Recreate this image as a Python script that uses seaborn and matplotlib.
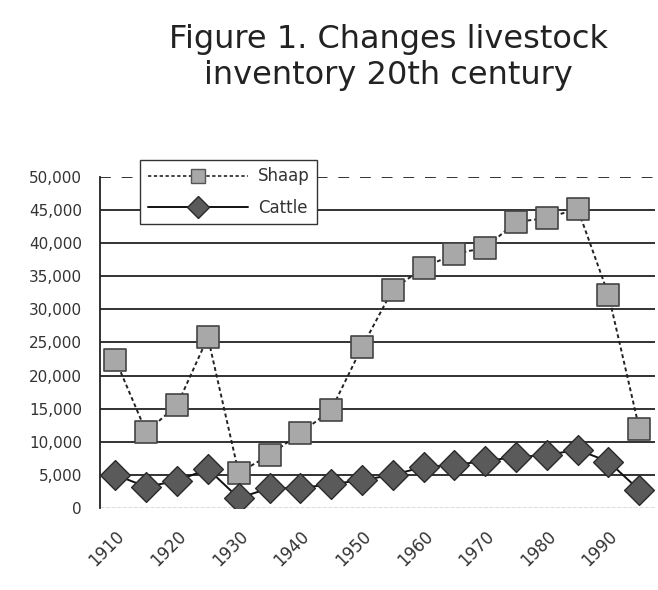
import pandas as pd
import matplotlib.pyplot as plt
import seaborn as sns
from matplotlib.ticker import FuncFormatter
from matplotlib.lines import Line2D

# Values (thousands of head, every 5 years)
years = [1910, 1915, 1920, 1925, 1930, 1935, 1940, 1945, 1950,
         1955, 1960, 1965, 1970, 1975, 1980, 1985, 1990, 1995]
sheep = [22400, 11500, 15500, 25800, 5300, 8000, 11300, 14800, 24300,
         33000, 36300, 38400, 39300, 43200, 43800, 45200, 32200, 12000]
cattle = [5000, 3200, 4100, 5900, 1500, 3000, 3000, 3600, 4200,
          5000, 6200, 6500, 7100, 7700, 8000, 8800, 7000, 2700]
tick_labels = ['1910', '1920', '1930', '1940', '1950', '1960', '1970', '1980', '1990']

df = pd.DataFrame({
    'idx': list(range(len(years))) * 2,
    'value': sheep + cattle,
    'series': ['Sheep'] * len(years) + ['Cattle'] * len(years),
})

sns.set_style('white')
plt.rcParams['font.family'] = ['DejaVu Sans']

fig = plt.figure(figsize=(6.58, 5.9), dpi=100)
ax = fig.add_axes([0.152, 0.139, 0.843, 0.561])

# horizontal grid lines (top one dashed)
for y in range(5000, 50000, 5000):
    ax.axhline(y, color='#222222', lw=1.3, zorder=0)
ax.axhline(50000, color='#222222', lw=1.3, ls=(0, (6, 6)), zorder=0)
ax.axhline(0, color='#555555', lw=1.0, ls=(0, (3, 1)), zorder=0)

sns.lineplot(data=df, x='idx', y='value', hue='series', style='series',
             hue_order=['Sheep', 'Cattle'], style_order=['Sheep', 'Cattle'],
             palette={'Sheep': '#222222', 'Cattle': '#111111'},
             dashes={'Sheep': (2, 1.5), 'Cattle': ''},
             markers={'Sheep': 's', 'Cattle': 'D'}, markersize=0,
             linewidth=1.4, ax=ax, legend=False)

sheep_df = df[df['series'] == 'Sheep']
cattle_df = df[df['series'] == 'Cattle']
ax.scatter(sheep_df['idx'], sheep_df['value'], marker='s', s=270,
           color='#a8a8a8', edgecolor='#444444', linewidth=1.2, zorder=3)
ax.scatter(cattle_df['idx'], cattle_df['value'], marker='D', s=230,
           color='#5a5a5a', edgecolor='#2a2a2a', linewidth=1.0, zorder=3)

ax.set_xlim(-0.5, len(years) - 0.5)
ax.set_ylim(0, 50000)
ax.set_yticks(range(0, 50001, 5000))
ax.yaxis.set_major_formatter(FuncFormatter(lambda v, p: f'{int(v):,}'))
ax.set_xticks(range(0, len(years), 2))
ax.set_xticklabels(tick_labels, rotation=45, ha='right', rotation_mode='anchor')
ax.set_xticks([-0.5, 3.5, 7.5, 11.5, 15.5], minor=True)
ax.tick_params(axis='x', which='major', length=0, labelsize=12, colors='#333333', pad=14)
ax.tick_params(axis='x', which='minor', length=5, direction='in', color='#333333')
ax.tick_params(axis='y', length=5, direction='out', labelsize=11, colors='#333333', pad=8)
ax.set_xlabel('')
ax.set_ylabel('')

for side in ['top', 'right', 'bottom']:
    ax.spines[side].set_visible(False)
ax.spines['left'].set_color('#222222')
ax.spines['left'].set_linewidth(1.3)

# legend box
handles = [
    Line2D([], [], color='#222222', ls=(0, (2, 1.5)), lw=1.2, marker='s',
           markersize=10, markerfacecolor='#a8a8a8', markeredgecolor='#555555'),
    Line2D([], [], color='#111111', lw=1.4, marker='D',
           markersize=11, markerfacecolor='#5a5a5a', markeredgecolor='#2a2a2a'),
]
leg = fig.legend(handles, ['Shaap', 'Cattle'], loc='upper left',
                 bbox_to_anchor=(0.213, 0.729), borderaxespad=0, frameon=True,
                 fancybox=False, fontsize=12, handlelength=6, handletextpad=0.6,
                 borderpad=0.45, labelspacing=0.8, edgecolor='#333333',
                 framealpha=1)
leg.get_frame().set_linewidth(1.0)
leg.set_zorder(5)
for t in leg.get_texts():
    t.set_color('#333333')

fig.text(0.59, 0.902, 'Figure 1. Changes livestock\ninventory 20th century',
         ha='center', va='center', fontsize=23, color='#222222', linespacing=1.2)

fig.savefig('out.png', dpi=100)
